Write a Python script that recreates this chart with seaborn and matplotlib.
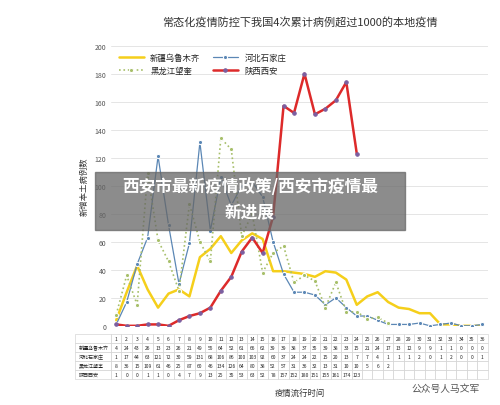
import numpy as np
import pandas as pd
import seaborn as sns
import matplotlib.pyplot as plt
from matplotlib.patches import Rectangle

sns.set_style("white")
plt.rcParams['font.family'] = ['Noto Sans CJK SC', 'DejaVu Sans']

days = list(range(1, 37))
xinjiang = [4, 24, 43, 26, 13, 23, 26, 21, 49, 55, 64, 52, 61, 66, 62, 39, 39, 38, 37, 35, 39, 38, 33, 15,
            21, 24, 17, 13, 12, 9, 9, 1, 1, 0, 0, 0]
hebei = [1, 17, 44, 63, 121, 72, 30, 59, 131, 68, 106, 86, 100, 103, 92, 60, 37, 24, 24, 22, 15, 20, 13, 7,
         7, 4, 1, 1, 1, 2, 0, 1, 2, 0, 0, 1]
heilongjiang = [8, 36, 15, 109, 61, 46, 25, 87, 60, 46, 134, 126, 64, 80, 38, 52, 57, 31, 36, 32, 13, 31, 10, 10,
                5, 6, 2]
shaanxi = [1, 0, 0, 1, 1, 0, 4, 7, 9, 13, 25, 35, 53, 63, 52, 78, 157, 152, 180, 151, 155, 161, 174, 123]

names = ["新疆乌鲁木齐", "河北石家庄", "黑龙江望奎", "陕西西安"]
series = [xinjiang, hebei, heilongjiang, shaanxi]
colors = ["#F5CF1B", "#5B87B5", "#A7BF6A", "#DD2A2A"]
styles = [dict(lw=1.8), dict(lw=0.9, marker="o", ms=3),
          dict(lw=1.2, ls=":", marker="o", ms=3), dict(lw=1.8, marker="o", ms=2.5, mfc="#7B5FA0", mec="#7B5FA0")]

fig = plt.figure(figsize=(5.0, 4.06), dpi=100)
ax = fig.add_axes([0.222, 0.195, 0.753, 0.69])
for name, vals, c, st in zip(names, series, colors, styles):
    df = pd.DataFrame({"day": days[:len(vals)], "v": vals})
    sns.lineplot(data=df, x="day", y="v", color=c, ax=ax, label=name, **st)

ax.set_xlim(0.5, 36.5)
ax.set_ylim(0, 200)
ax.set_yticks(range(0, 201, 20))
ax.set_xticks([])
ax.tick_params(axis="y", labelsize=5, colors="#555555", length=0)
ax.grid(axis="y", color="#e0e0e0", lw=0.6)
for s in ax.spines.values():
    s.set_visible(False)
ax.set_xlabel("")
ax.set_ylabel("新增本土病例数", fontsize=6, color="#333333")
h, l = ax.get_legend_handles_labels()
order = [0, 2, 1, 3]
ax.legend([h[i] for i in order], [l[i] for i in order], loc="upper left", bbox_to_anchor=(0.0, 1.0),
          ncol=2, fontsize=6, frameon=False, columnspacing=1.5, handlelength=3)

# data table
cell = [[str(v) for v in vals] + [""] * (36 - len(vals)) for vals in series]
tab = ax.table(cellText=[[str(d) for d in days]] + cell, rowLabels=[""] + names,
               bbox=[0, -0.19, 1, 0.16], cellLoc="center")
tab.auto_set_font_size(False)
tab.set_fontsize(3.6)
for (r, c), cl in tab.get_celld().items():
    cl.set_edgecolor("#cccccc")
    cl.set_linewidth(0.4)

fig.text(0.6, 0.935, "常态化疫情防控下我国4次累计病例超过1000的本地疫情",
         ha="center", fontsize=8, color="#333333")
fig.text(0.6, 0.025, "疫情流行时间", ha="center", fontsize=6, color="#333333")
fig.text(0.96, 0.035, "公众号人马文军", ha="right", fontsize=7, color="#555555")

fig.patches.append(Rectangle((0.19, 0.43), 0.62, 0.145, transform=fig.transFigure,
                             color="#666666", alpha=0.75, zorder=5))
fig.text(0.5, 0.54, "西安市最新疫情政策/西安市疫情最", ha="center", va="center",
         fontsize=12, color="white", weight="bold", zorder=6)
fig.text(0.5, 0.475, "新进展", ha="center", va="center",
         fontsize=12, color="white", weight="bold", zorder=6)

fig.savefig("out.png", dpi=100, facecolor="white")
